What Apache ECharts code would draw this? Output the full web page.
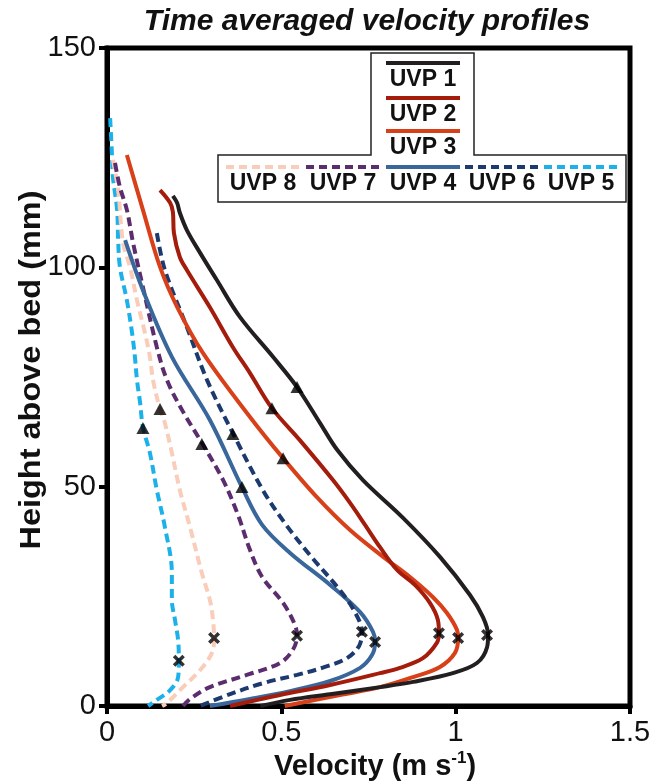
<!DOCTYPE html>
<html>
<head>
<meta charset="utf-8">
<script src="https://cdn.jsdelivr.net/npm/echarts@6/dist/echarts.min.js"></script>
<style>
  html, body { margin: 0; padding: 0; background: #fff; }
  #chart { width: 670px; height: 782px; }
</style>
</head>
<body>
<div id="chart"></div>
<script>
// velocity (m/s), height above bed (mm)
var uvp1 = [[0.189,116.3],[0.201,114.7],[0.209,112.4],[0.229,108.5],[0.267,103.3],[0.315,97.1],[0.381,88.7],[0.476,79.6],[0.545,72.7],[0.611,64.5],[0.660,58.4],[0.734,51.5],[0.849,42.9],[0.955,34.0],[1.041,25.3],[1.078,20.3],[1.093,16.2],[1.090,13.4],[1.061,9.8],[0.992,7.5],[0.878,5.5],[0.783,4.3],[0.640,2.7],[0.525,1.4],[0.44,0]];
var uvp2 = [[0.152,117.6],[0.181,114.7],[0.189,112.6],[0.192,107.8],[0.209,102.3],[0.229,99.4],[0.295,90.9],[0.361,81.8],[0.410,75.9],[0.473,67.9],[0.553,60.6],[0.648,51.5],[0.697,46.3],[0.740,41.3],[0.783,36.2],[0.832,31.0],[0.883,27.6],[0.926,23.5],[0.949,19.6],[0.952,16.6],[0.946,14.4],[0.906,10.9],[0.840,8.7],[0.783,7.5],[0.640,4.8],[0.496,2.5],[0.353,0]];
var uvp3 = [[0.057,125.6],[0.103,113.1],[0.152,100.1],[0.201,91.0],[0.275,80.5],[0.410,65.9],[0.505,56.5],[0.602,47.6],[0.697,40.1],[0.792,34.0],[0.869,29.4],[0.935,24.8],[0.975,21.2],[1.004,17.3],[1.007,15.5],[0.998,12.1],[0.955,8.9],[0.878,6.6],[0.783,4.3],[0.668,2.5],[0.51,0]];
var uvp4 = [[0.052,106.2],[0.103,94.8],[0.186,79.6],[0.295,65.2],[0.387,49.9],[0.445,41.3],[0.525,34.9],[0.640,27.6],[0.726,21.4],[0.763,16.9],[0.769,14.6],[0.760,11.6],[0.726,8.7],[0.640,5.7],[0.525,3.4],[0.410,1.6],[0.295,0]];
var uvp5 = [[0.009,134.0],[0.014,126.1],[0.017,120.6],[0.029,113.1],[0.032,106.2],[0.037,100.1],[0.057,92.5],[0.072,85.0],[0.080,79.6],[0.086,74.3],[0.095,69.1],[0.103,63.6],[0.123,57.7],[0.143,49.2],[0.166,40.8],[0.186,30.3],[0.186,24.2],[0.195,19.6],[0.204,15.0],[0.206,10.3],[0.204,6.6],[0.181,3.6],[0.143,1.4],[0.118,0]];
var uvp6 = [[0.143,107.8],[0.166,99.4],[0.229,86.4],[0.287,74.3],[0.361,62.2],[0.447,49.2],[0.510,41.7],[0.582,34.4],[0.668,26.4],[0.711,21.4],[0.731,16.9],[0.723,13.7],[0.688,10.9],[0.625,8.9],[0.545,7.1],[0.447,5.2],[0.353,2.7],[0.267,0]];
var uvp7 = [[0.023,123.8],[0.037,118.3],[0.057,113.1],[0.075,105.5],[0.103,95.5],[0.143,81.8],[0.172,74.3],[0.215,67.5],[0.272,60.0],[0.333,51.5],[0.376,43.5],[0.410,35.6],[0.445,29.4],[0.505,23.5],[0.539,18.5],[0.545,16.0],[0.533,12.8],[0.496,9.8],[0.410,7.3],[0.295,4.3],[0.238,1.6],[0.218,0]];
var uvp8 = [[0.017,124.5],[0.032,117.6],[0.046,105.5],[0.066,100.1],[0.086,92.5],[0.109,85.0],[0.123,79.6],[0.132,74.3],[0.152,67.7],[0.166,64.5],[0.186,57.7],[0.209,49.2],[0.238,40.8],[0.272,30.3],[0.295,24.2],[0.304,19.6],[0.307,15.5],[0.301,12.1],[0.267,8.2],[0.218,4.3],[0.172,0.7],[0.158,0]];

// triangle markers and velocity maxima (crosses)
var triangles = [[0.545,72.7],[0.473,67.9],[0.505,56.5],[0.387,49.9],[0.361,62.0],[0.272,59.7],[0.152,67.7],[0.103,63.4]];
var maxima = [[1.090,16.2],[0.952,16.6],[1.007,15.5],[0.769,14.6],[0.731,16.9],[0.545,16.0],[0.307,15.5],[0.206,10.3]];

var xTicks = [0, 0.5, 1, 1.5];
var yTicks = [0, 50, 100, 150];

var colors = {
    'UVP 1': '#231f20',
    'UVP 2': '#a41d0c',
    'UVP 3': '#d8401a',
    'UVP 4': '#3a679b',
    'UVP 5': '#1cb1e8',
    'UVP 6': '#1d3a6f',
    'UVP 7': '#5c2d6e',
    'UVP 8': '#f9cdb9'
};
var FONT = 'Liberation Sans, Arial, sans-serif';

function profile(name, data, dashed) {
    return {
        name: name,
        type: 'line',
        data: data,
        symbol: 'none',
        smooth: 0.35,
        lineStyle: {
            color: colors[name],
            width: 4,
            type: dashed ? [9, 5] : 'solid'
        }
    };
}

// hand made legend: line sample above the label
function legendItem(name, cx, y, dashed) {
    return [{
        type: 'line',
        z: 101,
        shape: { x1: cx - 37, y1: y, x2: cx + 37, y2: y },
        style: { stroke: colors[name], lineWidth: 4, lineDash: dashed ? [8, 5] : null }
    }, {
        type: 'text',
        z: 101,
        x: cx, y: y + 17,
        style: { text: name, font: 'bold 23px ' + FONT, fill: '#111', textAlign: 'center', textVerticalAlign: 'middle' }
    }];
}

var legendGraphics = [{
    type: 'polygon',
    z: 100,
    shape: { points: [[371,53],[474,53],[474,155],[626,155],[626,202],[218,202],[218,155],[371,155]] },
    style: { fill: '#fff', stroke: '#222', lineWidth: 1.5 }
}].concat(
    legendItem('UVP 1', 423, 63, false),
    legendItem('UVP 2', 423, 98, false),
    legendItem('UVP 3', 423, 131, false),
    legendItem('UVP 8', 263, 167, true),
    legendItem('UVP 7', 343, 167, true),
    legendItem('UVP 4', 423, 167, false),
    legendItem('UVP 6', 502, 167, true),
    legendItem('UVP 5', 581, 167, true)
);

var chart = echarts.init(document.getElementById('chart'));
var option = {
    animation: false,
    grid: { left: 107, right: 40, top: 48, bottom: 76, show: true, borderColor: '#000', borderWidth: 5 },
    xAxis: {
        type: 'value',
        min: xTicks[0], max: xTicks[xTicks.length - 1], interval: 0.5,
        splitLine: { show: false },
        axisLine: { lineStyle: { color: '#000', width: 5 } },
        axisTick: { length: 8, lineStyle: { color: '#000', width: 4 } },
        axisLabel: { fontSize: 29, color: '#111', fontFamily: FONT, margin: 12 }
    },
    yAxis: {
        type: 'value',
        min: yTicks[0], max: yTicks[yTicks.length - 1], interval: 50,
        splitLine: { show: false },
        axisLine: { lineStyle: { color: '#000', width: 5 } },
        axisTick: { length: 8, lineStyle: { color: '#000', width: 4 } },
        axisLabel: { fontSize: 29, color: '#111', fontFamily: FONT, margin: 11 }
    },
    graphic: [{
        type: 'text',
        x: 367, y: 22,
        style: { text: 'Time averaged velocity profiles', font: 'italic bold 30px ' + FONT, fill: '#111', textAlign: 'center', textVerticalAlign: 'middle' }
    }, {
        type: 'text',
        x: 375, y: 767,
        style: {
            text: '{n|Velocity (m s}{s|-1}{n|)}',
            textAlign: 'center', textVerticalAlign: 'middle',
            rich: {
                n: { font: 'bold 29px ' + FONT, fill: '#111', lineHeight: 34 },
                s: { font: 'bold 17px ' + FONT, fill: '#111', verticalAlign: 'top', lineHeight: 34 }
            }
        }
    }, {
        type: 'text',
        x: 32, y: 370,
        rotation: Math.PI / 2,
        scaleX: 1.12,
        style: { text: 'Height above bed (mm)', font: 'bold 29px ' + FONT, fill: '#111', textAlign: 'center', textVerticalAlign: 'middle' }
    }].concat(legendGraphics),
    series: [
        profile('UVP 5', uvp5, true),
        profile('UVP 8', uvp8, true),
        profile('UVP 7', uvp7, true),
        profile('UVP 4', uvp4, false),
        profile('UVP 6', uvp6, true),
        profile('UVP 3', uvp3, false),
        profile('UVP 2', uvp2, false),
        profile('UVP 1', uvp1, false),
        {
            name: 'triangles',
            type: 'scatter',
            data: triangles,
            symbol: 'triangle',
            symbolSize: [13, 12],
            itemStyle: { color: '#000' },
            z: 5
        },
        {
            name: 'maxima',
            type: 'scatter',
            data: maxima,
            symbol: 'path://M0,2.5L2.5,0L6,3.5L9.5,0L12,2.5L8.5,6L12,9.5L9.5,12L6,8.5L2.5,12L0,9.5L3.5,6Z',
            symbolSize: 12,
            itemStyle: { color: '#000' },
            z: 5
        }
    ]
};
chart.setOption(option);
</script>
</body>
</html>
